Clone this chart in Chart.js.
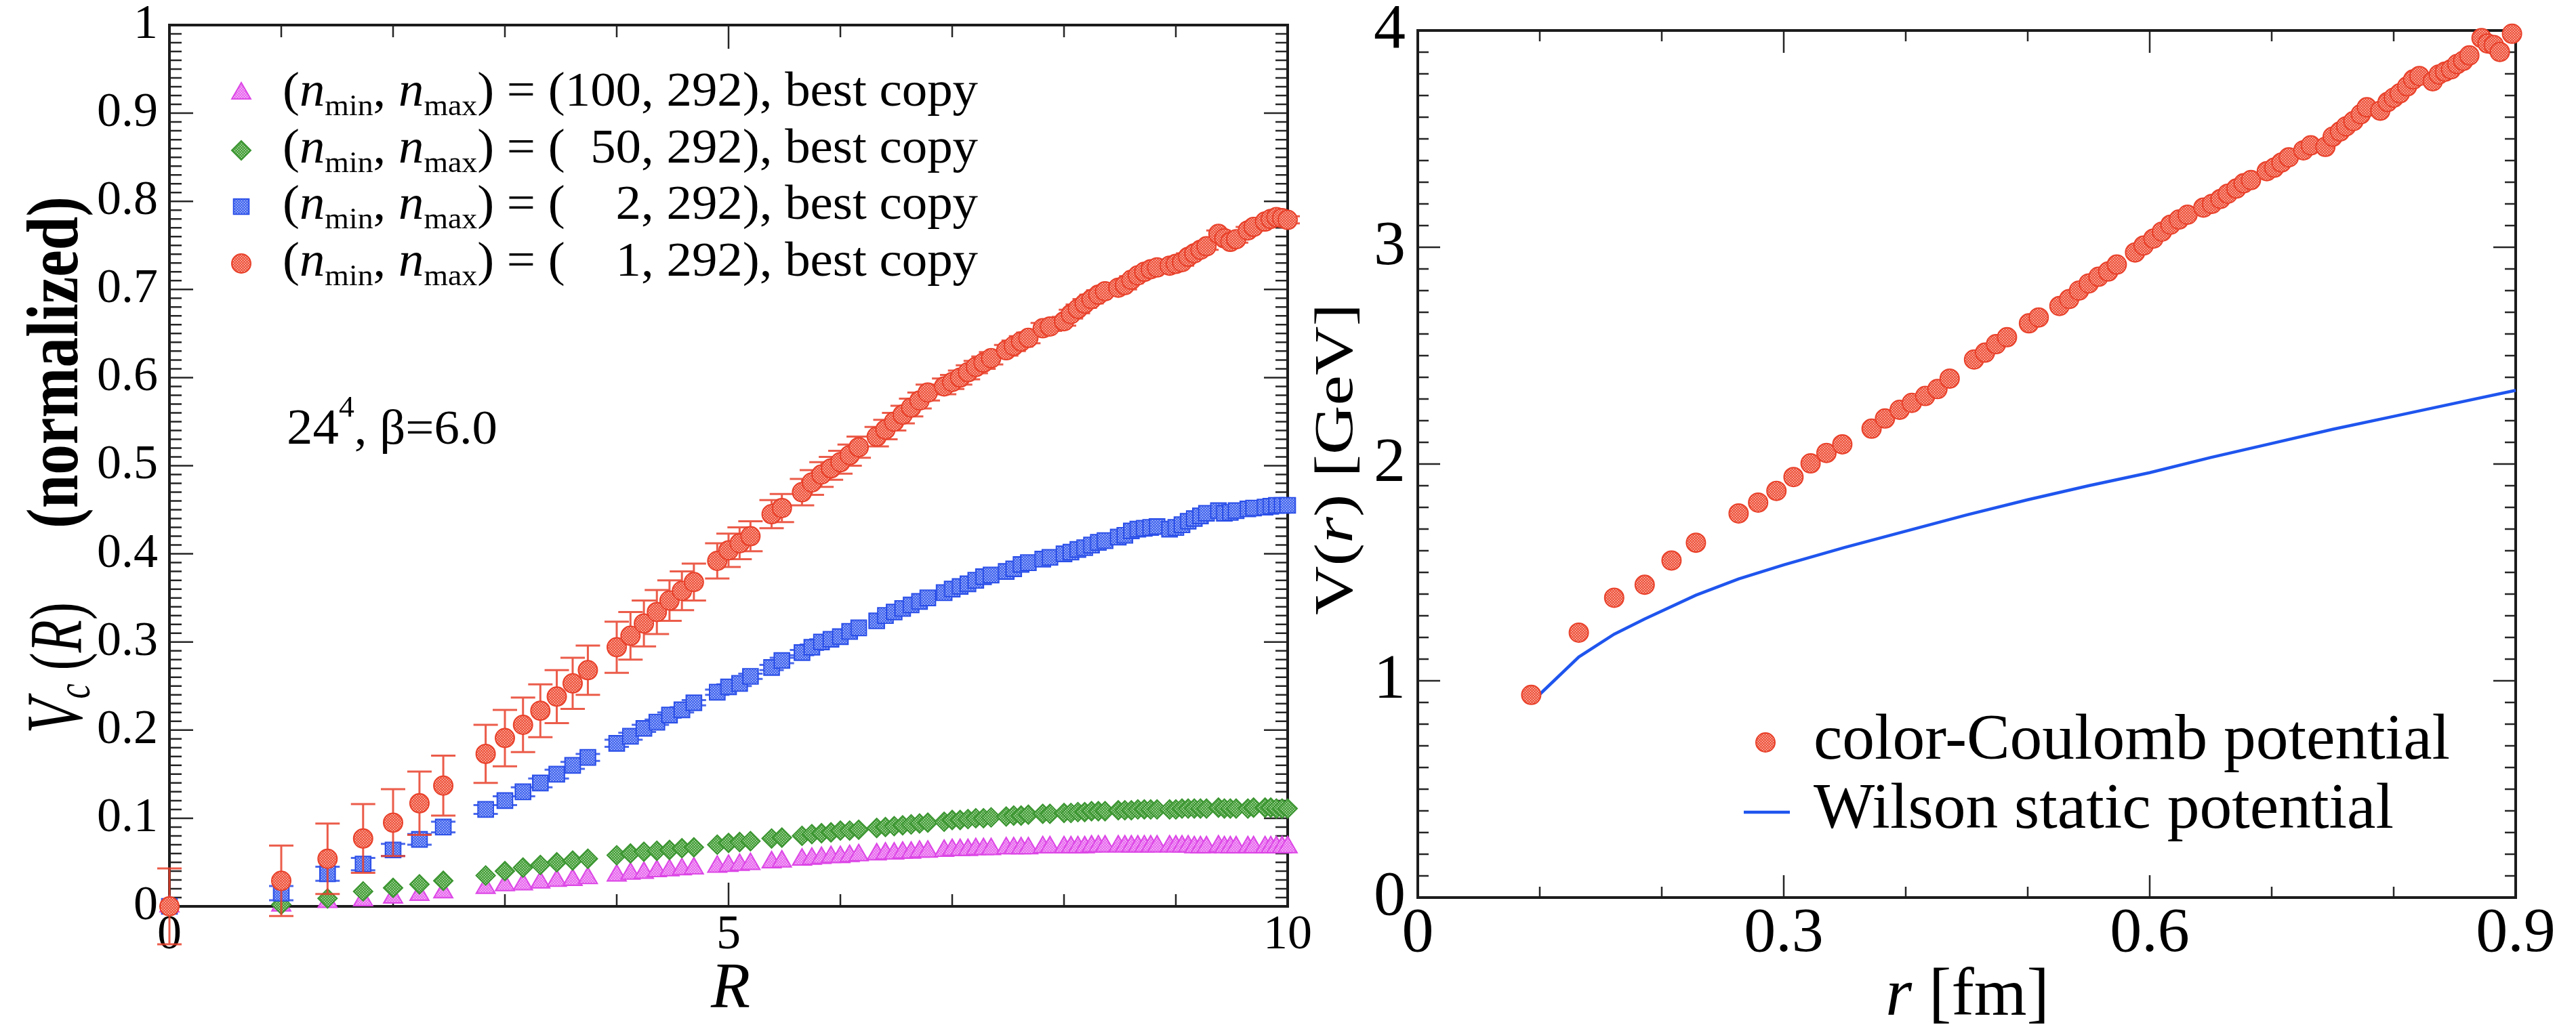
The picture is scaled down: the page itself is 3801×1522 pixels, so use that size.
<!DOCTYPE html>
<html>
<head>
<meta charset="utf-8">
<script src="https://cdn.jsdelivr.net/npm/chart.js@4.4.1/dist/chart.umd.min.js"></script>
<style>
  html, body { margin: 0; padding: 0; background: #fff; }
  #wrap { position: relative; width: 3801px; height: 1522px; overflow: hidden; }
  #cLeft { position: absolute; left: 0; top: 0; }
  #cRight { position: absolute; left: 1910px; top: 0; }
</style>
</head>
<body>
<div id="wrap">
  <canvas id="cLeft" width="1960" height="1522"></canvas>
  <canvas id="cRight" width="1891" height="1522"></canvas>
</div>
<script>
// ---- left panel: V_c(R) for the four n_min cuts, lattice separations R = sqrt(n)
const latticeR = [0, 1, 1.414, 1.732, 2, 2.236, 2.449, 2.828, 3, 3.162,
  3.317, 3.464, 3.606, 3.742, 4, 4.123, 4.243, 4.359, 4.472, 4.583,
  4.690, 4.899, 5, 5.099, 5.196, 5.385, 5.477, 5.657, 5.745, 5.831,
  5.916, 6, 6.083, 6.164, 6.325, 6.403, 6.481, 6.557, 6.633, 6.708,
  6.782, 6.928, 7, 7.071, 7.141, 7.211, 7.280, 7.348, 7.483, 7.550,
  7.616, 7.681, 7.810, 7.874, 8, 8.062, 8.124, 8.185, 8.246, 8.307,
  8.367, 8.485, 8.544, 8.602, 8.660, 8.718, 8.775, 8.832, 8.944, 9,
  9.055, 9.110, 9.165, 9.220, 9.274, 9.381, 9.434, 9.487, 9.539, 9.644,
  9.695, 9.798, 9.849, 9.899, 9.950, 10];

const vcMin1 = [0, .029, .054, .077, .095, .117, .137, .173, .191, .206,
  .222, .238, .253, .268, .294, .307, .321, .334, .347, .358,
  .368, .392, .404, .412, .420, .445, .452, .470, .481, .490,
  .497, .504, .512, .521, .533, .541, .550, .558, .566, .574,
  .583, .590, .595, .600, .606, .612, .617, .622, .631, .636,
  .641, .645, .656, .658, .664, .672, .678, .684, .689, .694,
  .698, .702, .705, .711, .716, .720, .723, .725, .727, .729,
  .731, .737, .741, .745, .749, .763, .758, .754, .757, .767,
  .771, .777, .780, .782, .781, .779];
const errMin1 = [.043, .040, .040, .039, .038, .036, .034, .033, .032, .031,
  .030, .030, .029, .028, .029, .027, .026, .025, .023, .022,
  .021, .020, .019, .018, .017, .016, .016, .015, .014, .014,
  .013, .013, .012, .012, .011, .011, .010, .010, .010, .009,
  .009, .009, .008, .008, .008, .007, .007, .007, .006, .006,
  .006, .006, .006, .005, .005, .005, .005, .005, .005, .005,
  .005, .005, .005, .004, .004, .004, .004, .004, .004, .004,
  .004, .004, .004, .004, .004, .004, .004, .004, .004, .004,
  .004, .004, .004, .004, .004, .004];

const vcMin2 = [0, .015, .037, .048, .064, .076, .090, .110, .120, .130,
  .140, .150, .160, .169, .185, .193, .202, .209, .217, .223,
  .231, .243, .249, .253, .261, .271, .279, .288, .294, .300,
  .303, .306, .312, .316, .324, .330, .334, .338, .342, .346,
  .350, .356, .360, .363, .366, .370, .374, .376, .380, .383,
  .388, .390, .394, .396, .400, .402, .405, .407, .410, .413,
  .415, .419, .421, .426, .428, .429, .430, .431, .428, .430,
  .433, .437, .440, .443, .446, .449, .446, .447, .449, .451,
  .452, .453, .454, .455, .455, .455];
const errMin2 = [0, .008, .008, .007, .007, .006, .006, .005, .005, .005,
  .005, .005, .004, .004, .004, .004, .004, .003, .003, .003,
  .003, .003, .003, .003, .003, .003, .003, .003, .003, .003,
  0, 0, 0, 0, 0, 0, 0, 0, 0, 0, 0, 0, 0, 0, 0, 0, 0, 0, 0, 0,
  0, 0, 0, 0, 0, 0, 0, 0, 0, 0, 0, 0, 0, 0, 0, 0, 0, 0, 0, 0,
  0, 0, 0, 0, 0, 0, 0, 0, 0, 0, 0, 0, 0, 0, 0, 0];

const vcMin50 = [0, .002, .009, .017, .021, .025, .029, .035, .040, .044,
  .047, .050, .052, .054, .058, .060, .062, .063, .064, .066,
  .067, .070, .072, .073, .074, .077, .078, .080, .082, .083,
  .084, .086, .086, .087, .089, .090, .091, .092, .093, .094,
  .095, .096, .098, .098, .099, .100, .100, .101, .102, .103,
  .103, .104, .105, .105, .106, .106, .107, .107, .108, .108,
  .108, .109, .109, .109, .110, .110, .110, .110, .110, .110,
  .111, .111, .111, .111, .111, .112, .111, .111, .111, .111,
  .112, .112, .112, .111, .111, .111];

const vcMin100 = [0, .001, .005, .007, .010, .013, .016, .021, .024, .025,
  .027, .029, .030, .032, .035, .037, .038, .040, .041, .042,
  .043, .045, .046, .047, .048, .050, .051, .053, .054, .055,
  .056, .056, .057, .058, .059, .060, .060, .061, .061, .062,
  .062, .063, .064, .064, .064, .065, .065, .065, .066, .066,
  .066, .066, .067, .067, .067, .067, .067, .067, .068, .068,
  .068, .068, .068, .068, .068, .068, .068, .068, .068, .068,
  .068, .068, .067, .067, .067, .068, .067, .067, .067, .067,
  .067, .067, .067, .067, .067, .067];

const legendMin = ['100', '50', '2', '1'];
const legendMax = '292';

// ---- right panel: potentials in physical units
const rFm = [0.093, 0.132, 0.161, 0.186, 0.208, 0.228, 0.263, 0.279, 0.294, 0.308,
  0.322, 0.335, 0.348, 0.372, 0.383, 0.395, 0.405, 0.416, 0.426, 0.436,
  0.456, 0.465, 0.474, 0.483, 0.501, 0.509, 0.526, 0.534, 0.542, 0.550,
  0.558, 0.566, 0.573, 0.588, 0.595, 0.603, 0.610, 0.617, 0.624, 0.631,
  0.644, 0.651, 0.658, 0.664, 0.671, 0.677, 0.683, 0.696, 0.702, 0.708,
  0.714, 0.726, 0.732, 0.744, 0.750, 0.756, 0.761, 0.767, 0.773, 0.778,
  0.789, 0.795, 0.800, 0.805, 0.811, 0.816, 0.821, 0.832, 0.837, 0.842,
  0.847, 0.852, 0.857, 0.862, 0.872, 0.877, 0.882, 0.887, 0.897];
const vCoulomb = [0.935, 1.222, 1.383, 1.443, 1.555, 1.637, 1.772, 1.822, 1.876, 1.940,
  2.003, 2.051, 2.091, 2.163, 2.210, 2.250, 2.282, 2.314, 2.346, 2.394,
  2.482, 2.514, 2.553, 2.585, 2.649, 2.676, 2.729, 2.761, 2.800, 2.833,
  2.864, 2.888, 2.920, 2.976, 3.008, 3.040, 3.072, 3.104, 3.128, 3.150,
  3.183, 3.200, 3.223, 3.247, 3.271, 3.295, 3.310, 3.351, 3.367, 3.391,
  3.415, 3.447, 3.470, 3.463, 3.510, 3.534, 3.558, 3.582, 3.614, 3.646,
  3.630, 3.670, 3.690, 3.710, 3.742, 3.774, 3.790, 3.766, 3.797, 3.810,
  3.821, 3.845, 3.860, 3.885, 3.965, 3.940, 3.933, 3.901, 3.985];

const rWilson = [0.093, 0.132, 0.161, 0.186, 0.228, 0.263, 0.30, 0.35, 0.40, 0.45,
  0.50, 0.55, 0.60, 0.65, 0.70, 0.75, 0.80, 0.85, 0.90];
const vWilson = [0.90, 1.11, 1.215, 1.285, 1.395, 1.47, 1.535, 1.615, 1.69, 1.765,
  1.835, 1.90, 1.96, 2.03, 2.095, 2.16, 2.22, 2.28, 2.34];

const legendRight = ['color-Coulomb potential', 'Wilson static potential'];

// ---------------------------------------------------------------------------
const SERIF = '"Liberation Serif", serif';
const RED = '#e8402a', BLUE = '#2b4fe8', GREEN = '#3a9430', MAGENTA = '#dc46e6';
const LINE_BLUE = '#1f55ee';
Chart.defaults.font.family = SERIF;

function dotFill(base) {
  const c = document.createElement('canvas');
  c.width = 4; c.height = 4;
  const g = c.getContext('2d');
  g.fillStyle = base;
  g.fillRect(0, 0, 4, 4);
  g.fillStyle = 'rgba(255,255,255,0.9)';
  g.fillRect(0, 0, 1, 1);
  g.fillRect(2, 2, 1, 1);
  return g.createPattern(c, 'repeat');
}

function pts(xs, ys) {
  return xs.map((x, i) => ({ x: x, y: ys[i] }));
}

function markerSet(label, data, style, radius, color, fill, errors) {
  return {
    label: label,
    data: data,
    showLine: false,
    pointStyle: style,
    pointRadius: radius,
    pointHoverRadius: radius,
    pointBorderWidth: 2,
    pointBorderColor: color,
    pointBackgroundColor: dotFill(fill),
    errors: errors,
    errColor: color,
    clip: false
  };
}

// rich text: runs drawn one after another along the baseline
function drawRuns(ctx, runs, x, y, o) {
  o = o || {};
  ctx.save();
  ctx.fillStyle = '#000';
  ctx.textBaseline = 'alphabetic';
  ctx.textAlign = 'left';
  let total = 0;
  runs.forEach(r => {
    ctx.font = r.font;
    r._tw = ctx.measureText(r.text).width;
    r._w = r.box != null ? r.box : r._tw;
    total += r._w;
  });
  const sx = o.fit ? o.fit / total : (o.sx || 1);
  ctx.translate(x, y);
  if (o.angle) ctx.rotate(o.angle);
  ctx.scale(sx, o.sy || 1);
  let cx = o.center ? -total / 2 : 0;
  runs.forEach(r => {
    ctx.font = r.font;
    const off = r.box != null ? r._w - r._tw : 0;
    ctx.fillText(r.text, cx + off, r.dy || 0);
    cx += r._w;
  });
  ctx.restore();
}

function drawMarker(ctx, ds, x, y) {
  ctx.save();
  ctx.fillStyle = ds.pointBackgroundColor;
  ctx.strokeStyle = ds.pointBorderColor;
  ctx.lineWidth = ds.pointBorderWidth;
  Chart.helpers.drawPoint(ctx, {
    pointStyle: ds.pointStyle, rotation: 0,
    radius: ds.pointRadius, borderWidth: ds.pointBorderWidth
  }, x, y);
  ctx.restore();
}

function range(from, to, step) {
  const out = [];
  const n = Math.round((to - from) / step);
  for (let i = 0; i <= n; i++) out.push(from + i * step);
  return out;
}

// frame + inward ticks on all four sides, error bars below each dataset
function framePlugin(cfg) {
  return {
    id: 'frame',
    beforeDatasetsDraw(chart) {
      const { ctx, chartArea: a } = chart;
      const x = chart.scales.x, y = chart.scales.y;
      ctx.save();
      ctx.strokeStyle = '#262626';
      ctx.lineWidth = 2.5;
      ctx.beginPath();
      cfg.xTicks.forEach(v => {
        const major = cfg.xMajor.some(m => Math.abs(m - v) < 1e-6);
        const L = major ? cfg.majorLen : cfg.minorLen;
        const px = x.getPixelForValue(v);
        ctx.moveTo(px, a.bottom); ctx.lineTo(px, a.bottom - L);
        ctx.moveTo(px, a.top); ctx.lineTo(px, a.top + L);
      });
      cfg.yTicks.forEach(v => {
        const major = cfg.yMajor.some(m => Math.abs(m - v) < 1e-6);
        const L = major ? cfg.majorLen : cfg.minorLen;
        const py = y.getPixelForValue(v);
        ctx.moveTo(a.left, py); ctx.lineTo(a.left + L, py);
        ctx.moveTo(a.right, py); ctx.lineTo(a.right - L, py);
      });
      ctx.stroke();
      ctx.lineWidth = 4;
      ctx.strokeStyle = '#1c1c1c';
      ctx.strokeRect(a.left, a.top, a.right - a.left, a.bottom - a.top);
      ctx.restore();
    },
    beforeDatasetDraw(chart, args) {
      const ds = chart.data.datasets[args.index];
      if (!ds.errors) return;
      const { ctx } = chart;
      const x = chart.scales.x, y = chart.scales.y;
      ctx.save();
      ctx.strokeStyle = ds.errColor;
      ctx.globalAlpha = 0.85;
      ctx.lineWidth = 3;
      ctx.beginPath();
      ds.data.forEach((p, i) => {
        const e = ds.errors[i];
        if (!e) return;
        const px = x.getPixelForValue(p.x);
        const y0 = y.getPixelForValue(p.y - e), y1 = y.getPixelForValue(p.y + e);
        ctx.moveTo(px, y0); ctx.lineTo(px, y1);
        ctx.moveTo(px - 18, y0); ctx.lineTo(px + 18, y0);
        ctx.moveTo(px - 18, y1); ctx.lineTo(px + 18, y1);
      });
      ctx.stroke();
      ctx.restore();
    }
  };
}

function tickFont(size) {
  return { family: SERIF, size: size, lineHeight: 1 };
}
const plainNumber = v => String(Number(v.toFixed(3)));

// ---------------------------------------------------------------------------
// left chart
const leftSets = [
  markerSet('(1, 292)', pts(latticeR, vcMin1), 'circle', 14, RED, '#f0604a', errMin1),
  markerSet('(2, 292)', pts(latticeR, vcMin2), 'rect', 16, BLUE, '#4f70f0', errMin2),
  markerSet('(50, 292)', pts(latticeR, vcMin50), 'rectRot', 14, GREEN, '#52a646', null),
  markerSet('(100, 292)', pts(latticeR, vcMin100), 'triangle', 16, MAGENTA, '#ea74f0', null)
];

const leftDecor = {
  id: 'leftDecor',
  afterDraw(chart) {
    const ctx = chart.ctx;
    const F = '72px ' + SERIF, FI = 'italic 72px ' + SERIF, FS = '44px ' + SERIF;
    ctx.font = F;
    const wNum = ctx.measureText('100').width;
    const rowsY = [138, 222, 305, 389];
    const order = [3, 2, 1, 0];
    order.forEach((di, k) => {
      drawMarker(ctx, chart.data.datasets[di], 356, rowsY[k]);
      drawRuns(ctx, [
        { text: '(', font: F }, { text: 'n', font: FI },
        { text: 'min', font: FS, dy: 14 },
        { text: ', ', font: F }, { text: 'n', font: FI },
        { text: 'max', font: FS, dy: 14 },
        { text: ') = (', font: F },
        { text: legendMin[k], font: F, box: wNum },
        { text: ', ' + legendMax + '), best copy', font: F }
      ], 417, rowsY[k] + 18, { fit: 1026 });
    });

    // lattice annotation
    drawRuns(ctx, [
      { text: '24', font: '74px ' + SERIF },
      { text: '4', font: '44px ' + SERIF, dy: -40 },
      { text: ', \u03b2=6.0', font: '72px ' + SERIF }
    ], 423, 655, { fit: 311 });

    // axis titles
    drawRuns(ctx, [{ text: 'R', font: 'italic 95px ' + SERIF }], 1078, 1487, { center: true });
    drawRuns(ctx, [
      { text: 'V', font: 'italic 118px ' + SERIF },
      { text: 'c', font: 'italic 70px ' + SERIF, dy: 12 },
      { text: ' (', font: '110px ' + SERIF },
      { text: 'R', font: 'italic 110px ' + SERIF },
      { text: ')', font: '110px ' + SERIF }
    ], 120, 1083, { angle: -Math.PI / 2, fit: 194 });
    drawRuns(ctx, [{ text: '(normalized)', font: 'bold 108px ' + SERIF }],
      114, 780, { angle: -Math.PI / 2, fit: 490 });
  }
};

new Chart(document.getElementById('cLeft'), {
  type: 'scatter',
  data: { datasets: leftSets },
  options: {
    responsive: false,
    animation: false,
    events: [],
    layout: { padding: { left: 0, top: 37, right: 60, bottom: 0 } },
    plugins: { legend: { display: false }, tooltip: { enabled: false } },
    scales: {
      x: {
        type: 'linear', min: 0, max: 10,
        grid: { display: false, drawTicks: false },
        border: { display: false },
        ticks: { stepSize: 5, padding: 7, color: '#000', font: tickFont(72), maxRotation: 0, autoSkip: false, callback: plainNumber },
        afterFit: s => { s.height = 184; s.paddingLeft = 0; s.paddingRight = 0; }
      },
      y: {
        type: 'linear', min: 0, max: 1,
        grid: { display: false, drawTicks: false },
        border: { display: false },
        ticks: { stepSize: 0.1, padding: 17, color: '#000', font: tickFont(72), autoSkip: false, callback: plainNumber },
        afterFit: s => { s.width = 250; s.paddingTop = 0; s.paddingBottom = 0; }
      }
    }
  },
  plugins: [framePlugin({
    xTicks: range(0, 10, 1), xMajor: [0, 5, 10],
    yTicks: range(0, 1, 0.01), yMajor: range(0, 1, 0.1),
    majorLen: 35, minorLen: 18
  }), leftDecor]
});

// ---------------------------------------------------------------------------
// right chart
const coulombSet = markerSet(legendRight[0], pts(rFm, vCoulomb), 'circle', 14, RED, '#f0604a', null);
const wilsonSet = {
  label: legendRight[1],
  data: pts(rWilson, vWilson),
  showLine: true,
  borderColor: LINE_BLUE,
  borderWidth: 4.5,
  pointRadius: 0,
  tension: 0,
  clip: false
};

const rightDecor = {
  id: 'rightDecor',
  afterDraw(chart) {
    const ctx = chart.ctx;
    const off = -1910; // canvas sits at x = 1910 in the page
    drawMarker(ctx, coulombSet, 2605 + off, 1096);
    drawRuns(ctx, [{ text: legendRight[0], font: '95px ' + SERIF }], 2676 + off, 1120, { fit: 939 });
    ctx.save();
    ctx.strokeStyle = LINE_BLUE;
    ctx.lineWidth = 4.5;
    ctx.beginPath();
    ctx.moveTo(2573 + off, 1199); ctx.lineTo(2641 + off, 1199);
    ctx.stroke();
    ctx.restore();
    drawRuns(ctx, [{ text: legendRight[1], font: '95px ' + SERIF }], 2676 + off, 1222, { fit: 856 });

    drawRuns(ctx, [
      { text: 'r', font: 'italic 100px ' + SERIF },
      { text: ' [fm]', font: '100px ' + SERIF }
    ], 2903 + off, 1498, { center: true });
    drawRuns(ctx, [
      { text: 'V(', font: '80px ' + SERIF },
      { text: 'r', font: 'italic 80px ' + SERIF },
      { text: ') [GeV]', font: '80px ' + SERIF }
    ], 1995 + off, 678, { angle: -Math.PI / 2, fit: 460, center: true });
  }
};

new Chart(document.getElementById('cRight'), {
  type: 'scatter',
  data: { datasets: [coulombSet, wilsonSet] },
  options: {
    responsive: false,
    animation: false,
    events: [],
    layout: { padding: { left: 0, top: 45, right: 89, bottom: 0 } },
    plugins: { legend: { display: false }, tooltip: { enabled: false } },
    scales: {
      x: {
        type: 'linear', min: 0, max: 0.9,
        grid: { display: false, drawTicks: false },
        border: { display: false },
        ticks: { stepSize: 0.3, padding: 7, color: '#000', font: tickFont(94), maxRotation: 0, autoSkip: false, callback: plainNumber },
        afterFit: s => { s.height = 197; s.paddingLeft = 0; s.paddingRight = 0; }
      },
      y: {
        type: 'linear', min: 0, max: 4,
        grid: { display: false, drawTicks: false },
        border: { display: false },
        ticks: { stepSize: 1, padding: 18, color: '#000', font: tickFont(94), autoSkip: false, callback: plainNumber },
        afterFit: s => { s.width = 182; s.paddingTop = 0; s.paddingBottom = 0; }
      }
    }
  },
  plugins: [framePlugin({
    xTicks: range(0, 0.9, 0.1), xMajor: [0, 0.3, 0.6, 0.9],
    yTicks: range(0, 4, 0.1), yMajor: [0, 1, 2, 3, 4],
    majorLen: 33, minorLen: 16
  }), rightDecor]
});
</script>
</body>
</html>
